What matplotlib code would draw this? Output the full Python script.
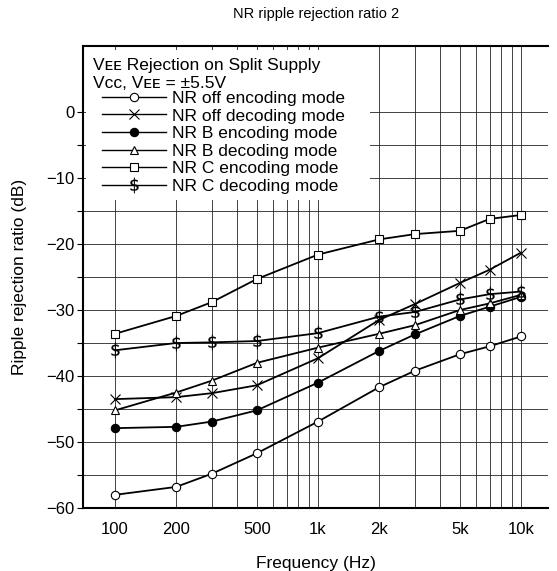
import matplotlib
matplotlib.use('Agg')
import matplotlib.pyplot as plt
from matplotlib.patches import Rectangle
from matplotlib.lines import Line2D

plt.rcParams['font.family'] = ['Liberation Sans', 'DejaVu Sans']
plt.rcParams['axes.unicode_minus'] = True

# data
freq = [100, 200, 300, 500, 1000, 2000, 3000, 5000, 7000, 10000]

nr_off_enc = [-58.0, -56.8, -54.8, -51.7, -46.9, -41.7, -39.2, -36.7, -35.5, -34.0]
nr_off_dec = [-43.5, -43.2, -42.6, -41.4, -37.3, -31.5, -29.1, -25.9, -23.9, -21.3]
nr_b_enc = [-47.9, -47.7, -46.9, -45.2, -41.0, -36.2, -33.7, -30.9, -29.5, -28.0]
nr_b_dec = [-45.2, -42.5, -40.7, -38.0, -35.7, -33.6, -32.3, -30.0, -29.0, -27.7]
nr_c_enc = [-33.6, -30.9, -28.8, -25.3, -21.6, -19.3, -18.5, -18.0, -16.2, -15.6]
nr_c_dec = [-36.1, -35.0, -34.9, -34.7, -33.5, -31.0, -30.3, -28.4, -27.6, -27.2]

series_labels = ['NR off encoding mode', 'NR off decoding mode',
                 'NR B encoding mode', 'NR B decoding mode',
                 'NR C encoding mode', 'NR C decoding mode']

xtick_vals = [100, 200, 500, 1000, 2000, 5000, 10000]
xtick_labels = ['100', '200', '500', '1k', '2k', '5k', '10k']
xgrid_vals = [100, 200, 300, 400, 500, 600, 700, 800, 900,
              1000, 2000, 3000, 4000, 5000, 6000, 7000, 8000, 9000, 10000]
ytick_vals = [0, -10, -20, -30, -40, -50, -60]
ygrid_vals = [0, -5, -10, -15, -20, -25, -30, -35, -40, -45, -50, -55, -60]

title = 'NR ripple rejection ratio 2'
header1 = 'V\u1d07\u1d07 Rejection on Split Supply'
header2 = 'V\u1d04\u1d04, V\u1d07\u1d07 = \u00b15.5V'

# marker styles: (marker, facecolor, size, edge width)
styles = [
    ('o', 'white', 6.0, 0.8),
    ('x', 'black', 6.5, 0.8),
    ('o', 'black', 6.0, 0.8),
    ('^', 'white', 6.0, 0.8),
    ('s', 'white', 5.5, 0.8),
    (r'$\$$', 'black', 11.0, 0.2),
]
data = [nr_off_enc, nr_off_dec, nr_b_enc, nr_b_dec, nr_c_enc, nr_c_dec]

fig = plt.figure(figsize=(5.57, 5.71), dpi=100)
ax = fig.add_axes([0.149, 0.1103, 0.835, 0.8091])

ax.set_xscale('log')
ax.set_xlim(69.5, 13600)
ax.set_ylim(-60, 10)

# grid drawn by hand so it stops where the reference stops
for gx in xgrid_vals:
    ax.axvline(gx, color='#222222', linewidth=0.6, zorder=0.5)
for gy in ygrid_vals:
    ax.axhline(gy, color='#222222', linewidth=0.6, zorder=0.5)

for vals, (mk, fc, ms, mew) in zip(data, styles):
    ax.plot(freq, vals, color='black', linewidth=1.3, zorder=3)
    ax.plot(freq, vals, linestyle='none', marker=mk, markersize=ms,
            markerfacecolor=fc, markeredgecolor='black', markeredgewidth=mew,
            color='black', zorder=4)

# white box behind the legend hides the grid
ax.add_patch(Rectangle((0.006, 0.667), 0.611, 0.325, transform=ax.transAxes,
                       facecolor='white', edgecolor='none', zorder=1))

ax.text(0.021, 0.957, header1, transform=ax.transAxes, fontsize=12.5,
        va='center', ha='left', zorder=5)
ax.text(0.021, 0.918, header2, transform=ax.transAxes, fontsize=12.5,
        va='center', ha='left', zorder=5)

handles = []
for lab, (mk, fc, ms, mew) in zip(series_labels, styles):
    handles.append(Line2D([0], [0], color='black', linewidth=1.0, marker=mk,
                          markersize=ms, markerfacecolor=fc,
                          markeredgecolor='black', markeredgewidth=mew,
                          label=lab))
leg = ax.legend(handles=handles, loc='upper left', bbox_to_anchor=(0.041, 0.903),
                frameon=False, fontsize=12.5, handlelength=3.7, handletextpad=0.3,
                labelspacing=0.14, borderpad=0.0, borderaxespad=0.0)
leg.set_zorder(5)

ax.set_xticks(xtick_vals)
ax.set_xticklabels(xtick_labels)
ax.set_xticks([], minor=True)
ax.tick_params(axis='x', which='both', length=0, labelsize=12, pad=10)

ax.set_yticks(ygrid_vals)
ax.set_yticklabels([('\u2212%d' % -v if v < 0 else '%d' % v) if v in ytick_vals else ''
                    for v in ygrid_vals])
ax.tick_params(axis='y', which='major', direction='out', length=4, width=0.8,
               labelsize=12, pad=2)

for side in ['left', 'bottom', 'top']:
    ax.spines[side].set_linewidth(1.5)
ax.spines['right'].set_visible(False)

ax.set_xlabel('Frequency (Hz)', fontsize=12.5, labelpad=14)
ax.set_ylabel('Ripple rejection ratio (dB)', fontsize=12.5, labelpad=14)
fig.text(0.567, 0.975, title, ha='center', va='center', fontsize=10.5)

fig.savefig('out.png', dpi=100)
